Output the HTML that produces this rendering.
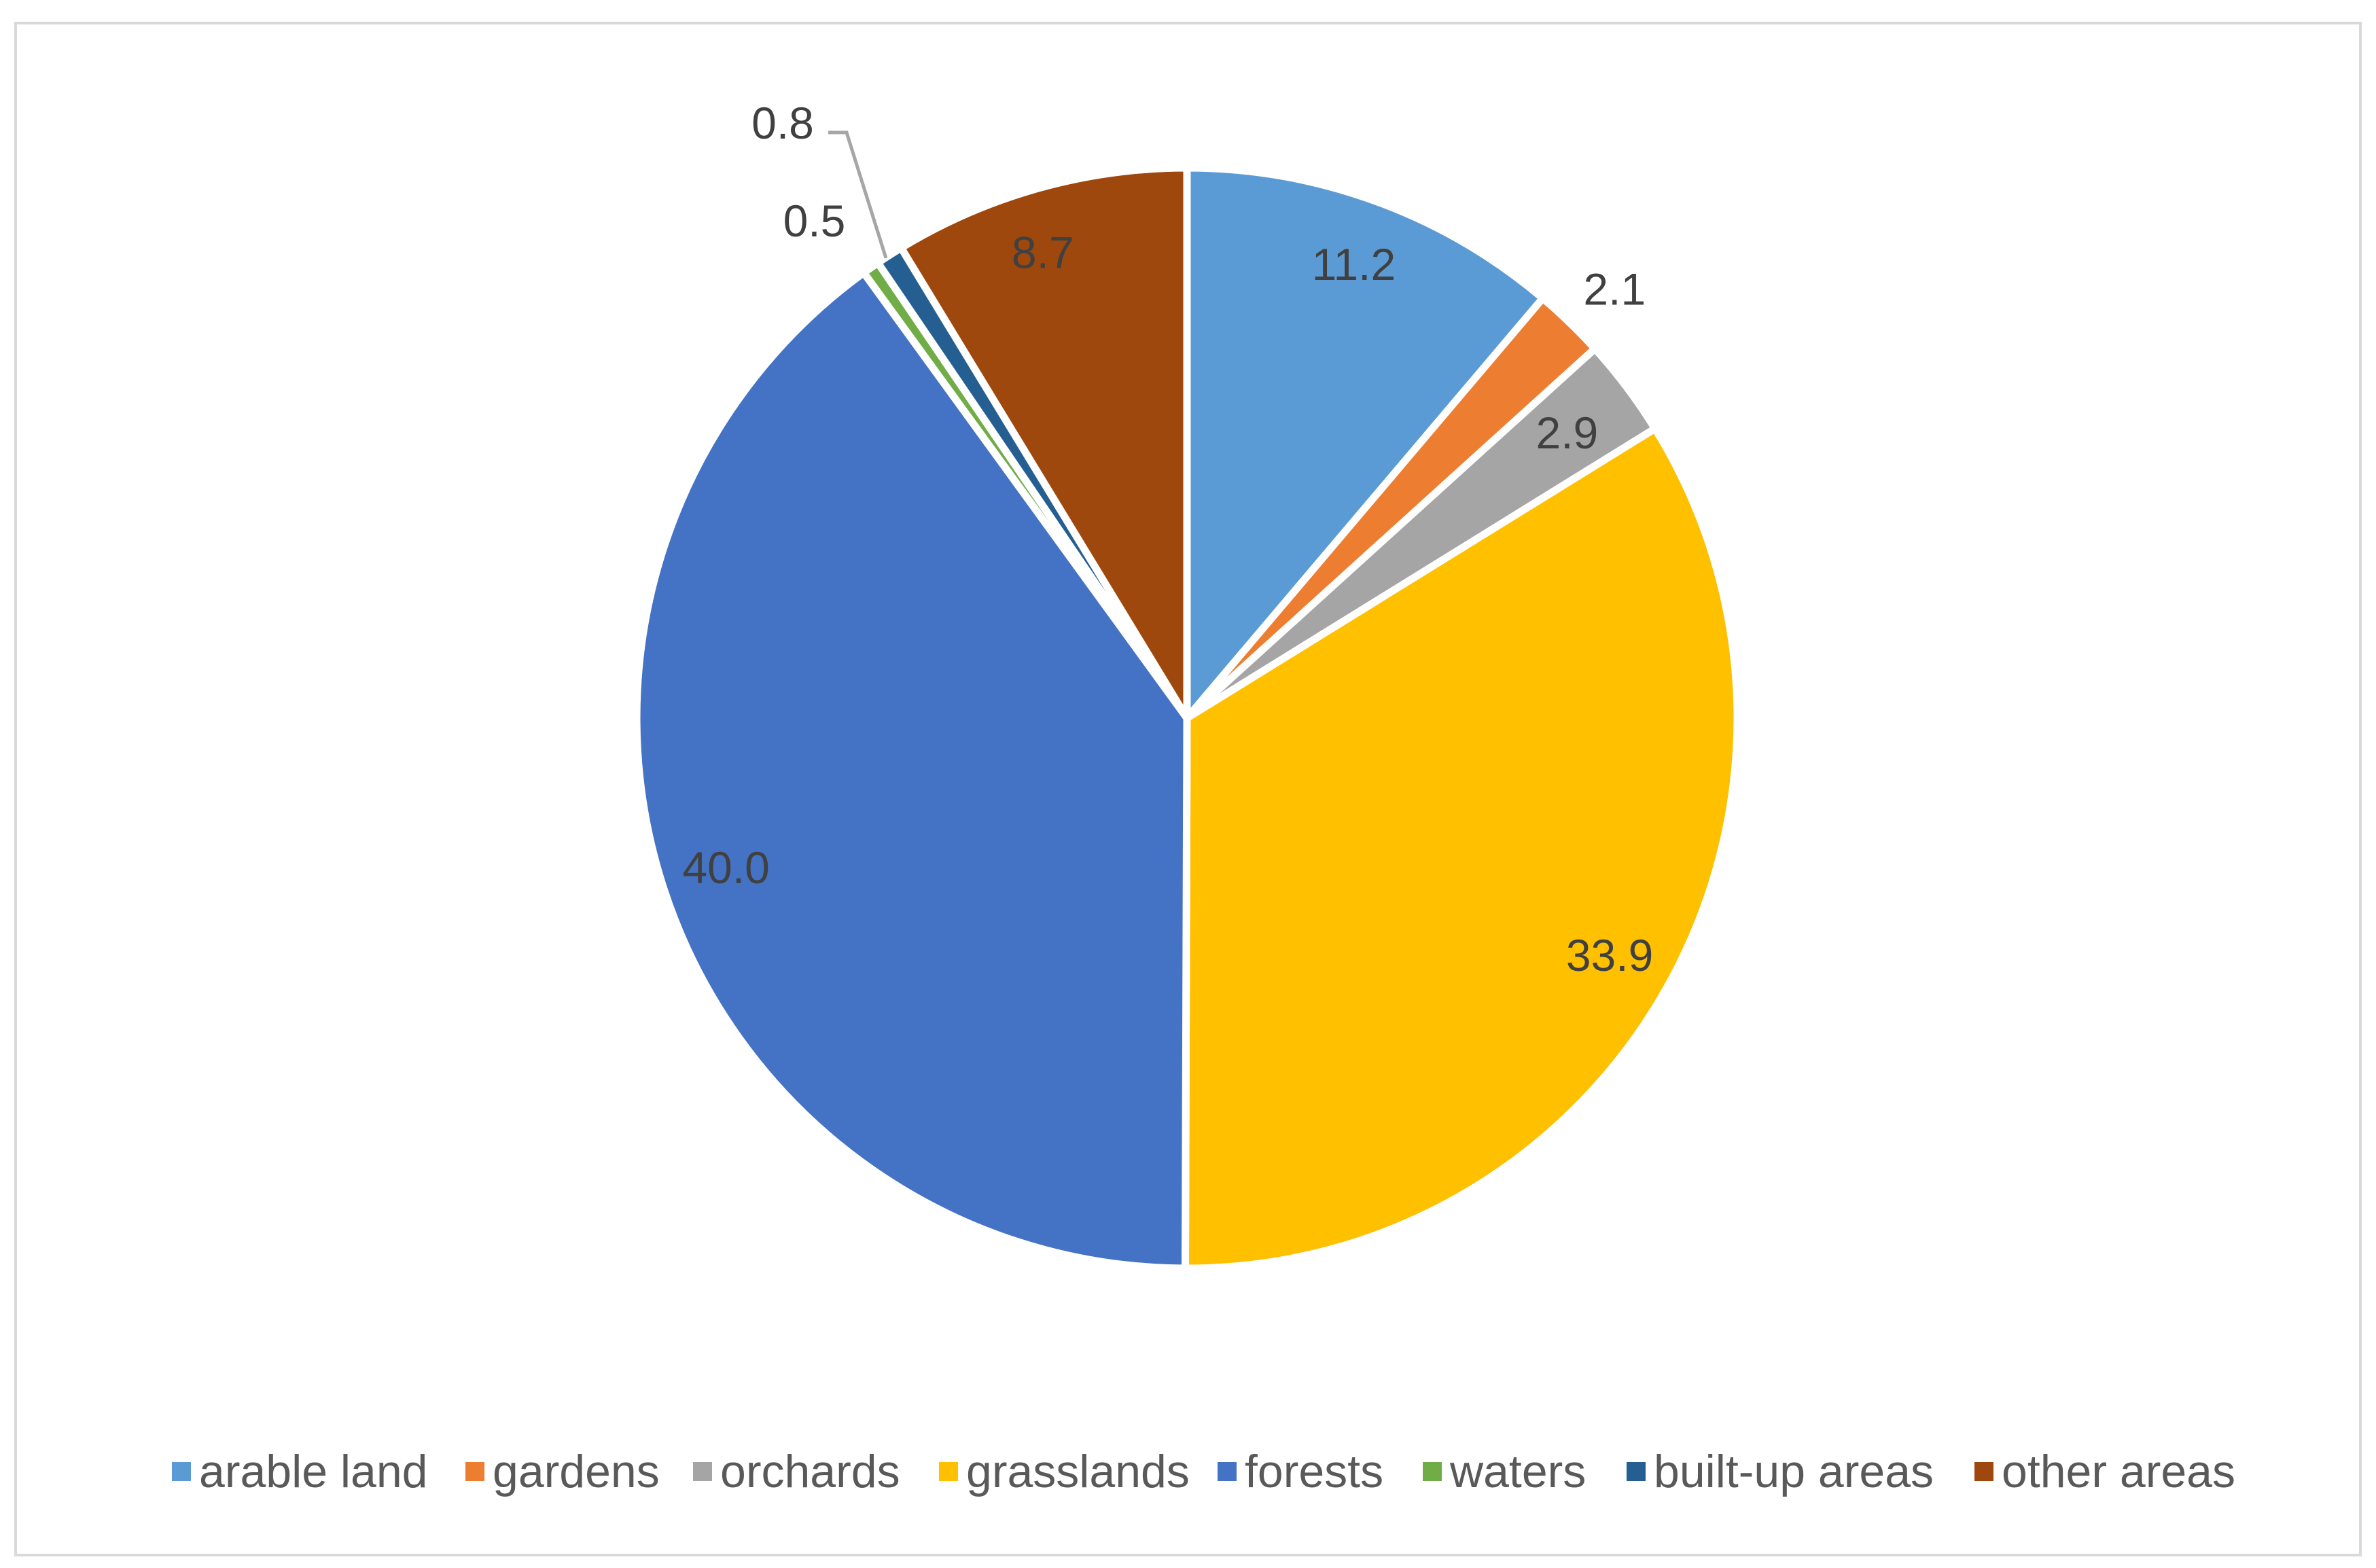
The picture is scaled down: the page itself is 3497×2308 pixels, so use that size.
<!DOCTYPE html>
<html><head><meta charset="utf-8"><style>
html,body{margin:0;padding:0;background:#fff;}
svg{display:block;font-family:"Liberation Sans Narrow","Liberation Sans",sans-serif;}
</style></head><body>
<svg id="chart" width="3497" height="2308" viewBox="0 0 3497 2308" xmlns="http://www.w3.org/2000/svg">
<rect x="23" y="34" width="3451" height="2255" fill="#fff" stroke="#d9d9d9" stroke-width="4"/>
<g id="slices"></g>
<g id="labels"></g>
<polyline points="1219,195 1246,195 1304,380" fill="none" stroke="#a6a6a6" stroke-width="5"/>
<g id="legend"></g>
</svg>
<script>
const categories = ["arable land","gardens","orchards","grasslands","forests","waters","built-up areas","other areas"];
const values = [11.2, 2.1, 2.9, 33.9, 40.0, 0.5, 0.8, 8.7];
const labelText = ["11.2","2.1","2.9","33.9","40.0","0.5","0.8","8.7"];
const colors = ["#5B9BD5","#ED7D31","#A5A5A5","#FFC000","#4472C4","#70AD47","#255E91","#9E480E"];

const NS = "http://www.w3.org/2000/svg";
const cx = 1747, cy = 1057, r = 810;
const total = values.reduce((a,b)=>a+b,0);
function angleOf(v){ return v / total * 2 * Math.PI; }
function pt(a, rad){ return [cx + rad*Math.sin(a), cy - rad*Math.cos(a)]; }

const slicesG = document.getElementById('slices');
const labelsG = document.getElementById('labels');
let acc = 0;
values.forEach((v,i)=>{
  const a0 = angleOf(acc), a1 = angleOf(acc+v);
  acc += v;
  const p0 = pt(a0,r), p1 = pt(a1,r);
  const large = (a1-a0) > Math.PI ? 1 : 0;
  const path = document.createElementNS(NS,'path');
  path.setAttribute('d',`M${cx},${cy} L${p0[0]},${p0[1]} A${r},${r} 0 ${large} 1 ${p1[0]},${p1[1]} Z`);
  path.setAttribute('fill',colors[i]);
  path.setAttribute('stroke','#fff');
  path.setAttribute('stroke-width','11');
  path.setAttribute('stroke-linejoin','round');
  
  
  slicesG.appendChild(path);

  const mid = (a0+a1)/2;
  let lp;
  if (i === 1) { lp = pt(mid, r+95); lp[1]+=18; }
  else if (i === 5) { lp = pt(mid, r+110); lp[0]-=20; lp[1]+=20; }
  else if (i === 6) { lp = [1152, 180]; }
  else if (i === 2) { lp = pt(mid, r-110); }
  else if (i === 7) { lp = pt(mid, r*0.88); lp[0]+=-20; }
  else { lp = pt(mid, r*0.88); }
  const t = document.createElementNS(NS,'text');
  t.setAttribute('x',lp[0]);
  t.setAttribute('y',lp[1]+24);
  t.setAttribute('text-anchor','middle');
  t.setAttribute('font-size','66');
  t.setAttribute('fill','#404040');
  
  
  t.textContent = labelText[i];
  labelsG.appendChild(t);
});

const legendG = document.getElementById('legend');
const legendX = [253, 685, 1020, 1382, 1792, 2094, 2394, 2906];
categories.forEach((c,i)=>{
  const g = document.createElementNS(NS,'g');
  
  
  const sq = document.createElementNS(NS,'rect');
  sq.setAttribute('x',legendX[i]); sq.setAttribute('y',2152);
  sq.setAttribute('width',28); sq.setAttribute('height',28);
  sq.setAttribute('fill',colors[i]);
  
  
  const t = document.createElementNS(NS,'text');
  t.setAttribute('x',legendX[i]+40); t.setAttribute('y',2189);
  t.setAttribute('font-size','68'); t.setAttribute('fill','#595959');
  
  
  t.textContent = c;
  g.appendChild(sq); g.appendChild(t);
  legendG.appendChild(g);
});
</script>
</body></html>
